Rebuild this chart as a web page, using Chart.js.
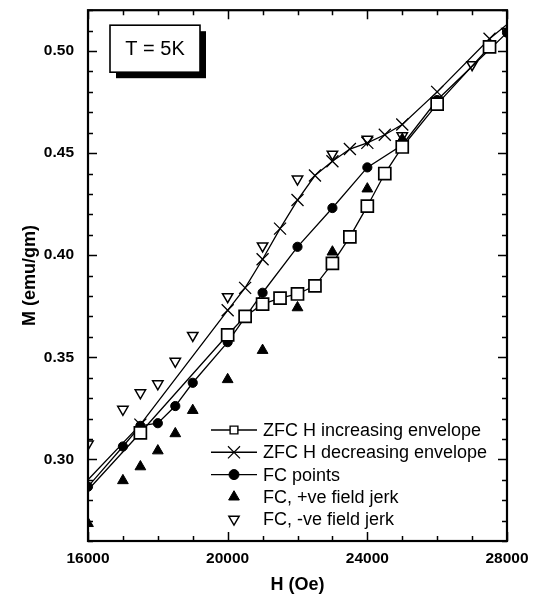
<!DOCTYPE html>
<html>
<head>
<meta charset="utf-8">
<script src="https://cdn.jsdelivr.net/npm/chart.js@4.4.0/dist/chart.umd.min.js"></script>
<style>
  html, body { margin: 0; padding: 0; background: #ffffff; }
  #wrap { width: 536px; height: 605px; position: relative; }
</style>
</head>
<body>
<div id="wrap"><canvas id="c" width="536" height="605"></canvas></div>
<script>
// ---- data ----
const xTickLabels = [16000, 20000, 24000, 28000];
const yTickLabels = [0.30, 0.35, 0.40, 0.45, 0.50];

const zfcIncH = [16000, 17500, 20000, 20500, 21000, 21500, 22000, 22500, 23000, 23500, 24000, 24500, 25000, 26000, 27500];
const zfcIncM = [0.285, 0.313, 0.361, 0.370, 0.376, 0.379, 0.381, 0.385, 0.396, 0.409, 0.424, 0.440, 0.453, 0.474, 0.502];

const zfcDecH = [16000, 17500, 20000, 20500, 21000, 21500, 22000, 22500, 23000, 23500, 24000, 24500, 25000, 26000, 27500, 28000];
const zfcDecM = [0.290, 0.317, 0.373, 0.384, 0.398, 0.413, 0.427, 0.439, 0.446, 0.452, 0.455, 0.459, 0.464, 0.480, 0.506, 0.513];

const fcH = [16000, 17000, 17500, 18000, 18500, 19000, 20000, 21000, 22000, 23000, 24000, 25000, 26000, 28000];
const fcM = [0.2866, 0.3063, 0.3164, 0.3177, 0.3261, 0.3375, 0.3574, 0.3816, 0.4041, 0.4231, 0.4430, 0.4540, 0.4760, 0.5090];

const posH = [16000, 17000, 17500, 18000, 18500, 19000, 20000, 21000, 22000, 23000, 24000, 25000];
const posM = [0.2686, 0.2896, 0.2964, 0.3042, 0.3126, 0.3240, 0.3391, 0.3534, 0.3743, 0.4016, 0.4325, 0.4568];

const negH = [16000, 17000, 17500, 18000, 18500, 19000, 20000, 21000, 22000, 23000, 24000, 25000, 26000, 27000, 28000];
const negM = [0.3075, 0.3245, 0.3326, 0.3370, 0.3480, 0.3607, 0.3797, 0.4045, 0.4373, 0.4495, 0.4568, 0.4585, 0.4755, 0.4933, 0.5096];

const seriesNames = ['ZFC H increasing envelope', 'ZFC H decreasing envelope', 'FC points', 'FC, +ve field jerk', 'FC, -ve field jerk'];
const tempLabel = 'T = 5K';
const xTitle = 'H (Oe)';
const yTitle = 'M (emu/gm)';

const pts = (xs, ys) => xs.map((x, i) => ({ x: x, y: ys[i] }));
const FONT = "'Liberation Sans', Arial, Helvetica, sans-serif";

// hide markers at the clipped edge for the envelope lines
const incRadius = zfcIncH.map((h, i) => (i === 0 ? 0 : 8.5));
const decRadius = zfcDecH.map((h, i) => (i === 0 || i === zfcDecH.length - 1 ? 0 : 8.5));

const datasets = [
  { label: seriesNames[0], data: pts(zfcIncH, zfcIncM), showLine: true, borderColor: '#000', borderWidth: 1.3,
    pointStyle: 'rect', pointRadius: incRadius, pointBackgroundColor: '#fff', pointBorderColor: '#000', pointBorderWidth: 1.7 },
  { label: seriesNames[1], data: pts(zfcDecH, zfcDecM), showLine: true, borderColor: '#000', borderWidth: 1.3,
    pointStyle: 'crossRot', pointRadius: decRadius, pointBorderColor: '#000', pointBorderWidth: 1.3 },
  { label: seriesNames[2], data: pts(fcH, fcM), showLine: true, borderColor: '#000', borderWidth: 1.3,
    pointStyle: 'circle', pointRadius: 4.6, pointBackgroundColor: '#000', pointBorderColor: '#000', pointBorderWidth: 1 },
  { label: seriesNames[3], data: pts(posH, posM), showLine: false,
    pointStyle: 'triangle', pointRadius: 6.2, pointBackgroundColor: '#000', pointBorderColor: '#000', pointBorderWidth: 1 },
  { label: seriesNames[4], data: pts(negH, negM), showLine: false,
    pointStyle: 'triangle', pointRotation: 180, pointRadius: 6, pointBackgroundColor: '#fff', pointBorderColor: '#000', pointBorderWidth: 1.5 }
];

const framePlugin = {
  id: 'frame',
  afterDraw(chart) {
    const { ctx, chartArea: a, scales } = chart;
    const xs = scales.x, ys = scales.y;
    ctx.save();
    ctx.strokeStyle = '#000';
    // ticks
    ctx.lineWidth = 1.5;
    ctx.beginPath();
    for (let i = 26; i <= 52; i++) {
      const py = Math.round(ys.getPixelForValue(i / 100)) + 0.5;
      const len = (i % 5 === 0) ? 9 : 5;
      ctx.moveTo(a.left, py); ctx.lineTo(a.left + len, py);
      ctx.moveTo(a.right, py); ctx.lineTo(a.right - len, py);
    }
    for (let h = 16000; h <= 28000; h += 1000) {
      const px = Math.round(xs.getPixelForValue(h)) + 0.5;
      const len = ((h - 16000) % 4000 === 0) ? 9 : 5;
      ctx.moveTo(px, a.bottom); ctx.lineTo(px, a.bottom - len);
      ctx.moveTo(px, a.top); ctx.lineTo(px, a.top + len);
    }
    ctx.stroke();
    // frame
    ctx.lineWidth = 2.2;
    ctx.strokeRect(a.left, a.top, a.right - a.left, a.bottom - a.top);

    // temperature box with shadow
    const bx = a.left + 22, by = a.top + 15, bw = 90, bh = 47, sh = 6;
    ctx.fillStyle = '#000';
    ctx.fillRect(bx + sh, by + sh, bw, bh);
    ctx.fillStyle = '#fff';
    ctx.fillRect(bx, by, bw, bh);
    ctx.lineWidth = 1.6;
    ctx.strokeRect(bx, by, bw, bh);
    ctx.fillStyle = '#000';
    ctx.font = '20px ' + FONT;
    ctx.textAlign = 'center';
    ctx.textBaseline = 'middle';
    ctx.fillText(tempLabel, bx + bw / 2, by + bh / 2 + 1);

    // legend
    const lx0 = a.left + 123, lx1 = a.left + 169, mx = a.left + 146, tx = a.left + 175;
    const rowY0 = 430, rowGap = 22.3;
    const styles = [
      { line: true, style: 'rect', r: 5.5, fill: '#fff', bw: 1.4 },
      { line: true, style: 'crossRot', r: 8.5, fill: '#000', bw: 1.2 },
      { line: true, style: 'circle', r: 5, fill: '#000', bw: 1 },
      { line: false, style: 'triangle', r: 6.2, fill: '#000', bw: 1, rot: 0 },
      { line: false, style: 'triangle', r: 6, fill: '#fff', bw: 1.4, rot: 180 }
    ];
    ctx.font = '18px ' + FONT;
    ctx.textAlign = 'left';
    styles.forEach((s, i) => {
      const y = rowY0 + i * rowGap;
      if (s.line) {
        ctx.lineWidth = 1.4;
        ctx.strokeStyle = '#000';
        ctx.beginPath(); ctx.moveTo(lx0, y); ctx.lineTo(lx1, y); ctx.stroke();
      }
      ctx.fillStyle = s.fill;
      ctx.strokeStyle = '#000';
      ctx.lineWidth = s.bw;
      Chart.helpers.drawPoint(ctx, { pointStyle: s.style, radius: s.r, rotation: s.rot || 0, borderWidth: s.bw }, mx, y);
      ctx.fillStyle = '#000';
      ctx.fillText(seriesNames[i], tx, y + 1);
    });
    ctx.restore();
  }
};

new Chart(document.getElementById('c'), {
  type: 'scatter',
  data: { datasets: datasets },
  options: {
    responsive: false,
    animation: false,
    devicePixelRatio: 1,
    layout: { padding: { top: 7, right: 29, left: 0, bottom: 0 } },
    plugins: { legend: { display: false }, tooltip: { enabled: false } },
    scales: {
      x: {
        type: 'linear', min: 16000, max: 28000,
        grid: { display: false, drawTicks: false },
        border: { display: false },
        afterBuildTicks: (s) => { s.ticks = xTickLabels.map(v => ({ value: v })); },
        afterFit: (s) => { s.height = 64; s.paddingLeft = 0; s.paddingRight = 0; },
        ticks: { color: '#000', padding: 8, maxRotation: 0, font: { family: FONT, size: 15.5, weight: 'bold' },
                 callback: (v) => String(v) },
        title: { display: true, text: xTitle, color: '#000', font: { family: FONT, size: 18, weight: 'bold' },
                 padding: { top: 0, bottom: 9 } }
      },
      y: {
        type: 'linear', min: 0.26, max: 0.52,
        grid: { display: false, drawTicks: false },
        border: { display: false },
        afterBuildTicks: (s) => { s.ticks = yTickLabels.map(v => ({ value: v })); },
        afterFit: (s) => { s.width = 88; s.paddingTop = 0; s.paddingBottom = 0; },
        ticks: { color: '#000', padding: 14, font: { family: FONT, size: 15.5, weight: 'bold' },
                 callback: (v) => Number(v).toFixed(2) },
        title: { display: true, text: yTitle, color: '#000', font: { family: FONT, size: 18, weight: 'bold' },
                 padding: { top: 19, bottom: 0 } }
      }
    }
  },
  plugins: [framePlugin]
});
</script>
</body>
</html>
